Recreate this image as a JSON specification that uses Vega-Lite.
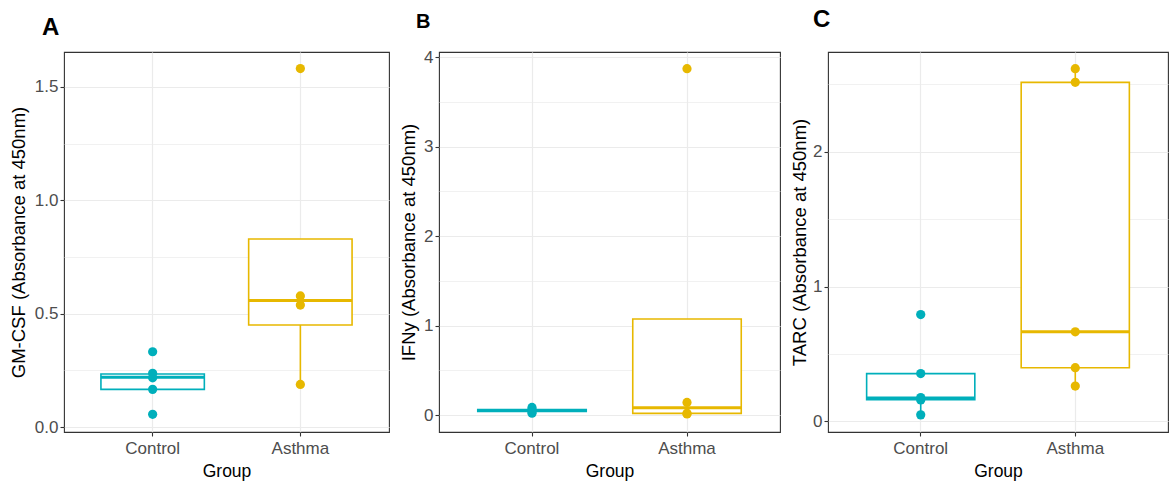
{
  "$schema": "https://vega.github.io/schema/vega-lite/v6.json",
  "background": "white",
  "padding": {"left": 8, "top": 7, "right": 0, "bottom": 0},
  "spacing": 8,
  "datasets": {
    "points": [
      {"panel": "A", "group": "Control", "value": 0.332},
      {"panel": "A", "group": "Control", "value": 0.237},
      {"panel": "A", "group": "Control", "value": 0.217},
      {"panel": "A", "group": "Control", "value": 0.166},
      {"panel": "A", "group": "Control", "value": 0.056},
      {"panel": "A", "group": "Asthma", "value": 1.581},
      {"panel": "A", "group": "Asthma", "value": 0.578},
      {"panel": "A", "group": "Asthma", "value": 0.538},
      {"panel": "A", "group": "Asthma", "value": 0.188},
      {"panel": "B", "group": "Control", "value": 0.085},
      {"panel": "B", "group": "Control", "value": 0.06},
      {"panel": "B", "group": "Control", "value": 0.05},
      {"panel": "B", "group": "Control", "value": 0.04},
      {"panel": "B", "group": "Control", "value": 0.02},
      {"panel": "B", "group": "Asthma", "value": 3.873},
      {"panel": "B", "group": "Asthma", "value": 0.141},
      {"panel": "B", "group": "Asthma", "value": 0.02},
      {"panel": "B", "group": "Asthma", "value": 0.012},
      {"panel": "C", "group": "Control", "value": 0.793},
      {"panel": "C", "group": "Control", "value": 0.355},
      {"panel": "C", "group": "Control", "value": 0.177},
      {"panel": "C", "group": "Control", "value": 0.16},
      {"panel": "C", "group": "Control", "value": 0.049},
      {"panel": "C", "group": "Asthma", "value": 2.616},
      {"panel": "C", "group": "Asthma", "value": 2.515},
      {"panel": "C", "group": "Asthma", "value": 0.665},
      {"panel": "C", "group": "Asthma", "value": 0.399},
      {"panel": "C", "group": "Asthma", "value": 0.263}
    ],
    "boxes": [
      {"panel": "A", "group": "Control", "lower": 0.166, "q1": 0.166, "median": 0.219, "q3": 0.234, "upper": 0.234},
      {"panel": "A", "group": "Asthma", "lower": 0.188, "q1": 0.45, "median": 0.558, "q3": 0.829, "upper": 0.829},
      {"panel": "B", "group": "Control", "lower": 0.04, "q1": 0.04, "median": 0.05, "q3": 0.06, "upper": 0.06},
      {"panel": "B", "group": "Asthma", "lower": 0.012, "q1": 0.018, "median": 0.08, "q3": 1.074, "upper": 1.074},
      {"panel": "C", "group": "Control", "lower": 0.049, "q1": 0.162, "median": 0.174, "q3": 0.355, "upper": 0.355},
      {"panel": "C", "group": "Asthma", "lower": 0.263, "q1": 0.399, "median": 0.665, "q3": 2.515, "upper": 2.616}
    ]
  },
  "config": {
    "font": "Liberation Sans",
    "view": {"stroke": "#333333", "strokeWidth": 1.1},
    "axis": {
      "labelFont": "Liberation Sans",
      "titleFont": "Liberation Sans",
      "labelFontSize": 17,
      "titleFontSize": 18.5,
      "labelColor": "#4D4D4D",
      "titleColor": "#000000",
      "titleFontWeight": "normal",
      "tickColor": "#333333",
      "tickSize": 4,
      "tickWidth": 1.1,
      "domain": false,
      "grid": true,
      "gridColor": "#EBEBEB",
      "gridWidth": 1.2,
      "labelPadding": 2
    },
    "title": {"font": "Liberation Sans", "fontWeight": "bold", "color": "#000000", "anchor": "start", "frame": "group", "baseline": "alphabetic"}
  },
  "hconcat": [
    {
      "title": {"text": "A", "fontSize": 24, "dx": -22, "offset": 12},
      "width": 325,
      "height": 380,
      "encoding": {
        "x": {"field": "group", "type": "nominal", "sort": ["Control", "Asthma"], "scale": {"paddingInner": 0.3, "paddingOuter": 0.25}, "title": "Group", "axis": {"labelAngle": 0, "bandPosition": 0.5, "titleFontSize": 17.5, "labelPadding": 4, "titlePadding": 6}}
      },
      "layer": [
        {
          "data": {"name": "boxes"},
          "transform": [{"filter": "datum.panel === 'A'"}],
          "mark": {"type": "rule", "strokeWidth": 1.6},
          "encoding": {
            "y": {"field": "lower", "type": "quantitative", "scale": {"domain": [-0.022, 1.654], "nice": false, "zero": false}, "title": "GM-CSF (Absorbance at 450nm)", "axis": {"values": [0, 0.25, 0.5, 0.75, 1, 1.25, 1.5], "labelExpr": "round(datum.value * 4) % 2 === 1 ? '' : format(datum.value, '.1f')", "tickOpacity": {"condition": {"test": "round(datum.value * 4) % 2 === 1", "value": 0}, "value": 1}, "gridWidth": {"condition": {"test": "round(datum.value * 4) % 2 === 1", "value": 0.7}, "value": 1.2}, "titlePadding": 6}},
            "y2": {"field": "upper"},
            "stroke": {"field": "group", "type": "nominal", "scale": {"domain": ["Control", "Asthma"], "range": ["#00AFBB", "#E7B800"]}, "legend": null}
          }
        },
        {
          "data": {"name": "boxes"},
          "transform": [{"filter": "datum.panel === 'A'"}],
          "mark": {"type": "bar", "fill": "white", "strokeWidth": 1.6},
          "encoding": {
            "y": {"field": "q1", "type": "quantitative"},
            "y2": {"field": "q3"},
            "stroke": {"field": "group", "type": "nominal", "legend": null}
          }
        },
        {
          "data": {"name": "boxes"},
          "transform": [{"filter": "datum.panel === 'A'"}],
          "mark": {"type": "bar", "fill": "white", "strokeWidth": 3},
          "encoding": {
            "y": {"field": "median", "type": "quantitative"},
            "y2": {"field": "median"},
            "stroke": {"field": "group", "type": "nominal", "legend": null}
          }
        },
        {
          "data": {"name": "points"},
          "transform": [{"filter": "datum.panel === 'A'"}],
          "mark": {"type": "circle", "size": 85, "opacity": 1},
          "encoding": {
            "y": {"field": "value", "type": "quantitative"},
            "color": {"field": "group", "type": "nominal", "scale": {"domain": ["Control", "Asthma"], "range": ["#00AFBB", "#E7B800"]}, "legend": null}
          }
        }
      ]
    },
    {
      "title": {"text": "B", "fontSize": 20, "dx": -23, "offset": 16},
      "width": 341,
      "height": 380,
      "encoding": {
        "x": {"field": "group", "type": "nominal", "sort": ["Control", "Asthma"], "scale": {"paddingInner": 0.3, "paddingOuter": 0.25}, "title": "Group", "axis": {"labelAngle": 0, "bandPosition": 0.5, "titleFontSize": 17.5, "labelPadding": 4, "titlePadding": 6}}
      },
      "layer": [
        {
          "data": {"name": "boxes"},
          "transform": [{"filter": "datum.panel === 'B'"}],
          "mark": {"type": "rule", "strokeWidth": 1.6},
          "encoding": {
            "y": {"field": "lower", "type": "quantitative", "scale": {"domain": [-0.19, 4.06], "nice": false, "zero": false}, "title": "IFNy (Absorbance at 450nm)", "axis": {"values": [0, 0.5, 1, 1.5, 2, 2.5, 3, 3.5, 4], "labelExpr": "round(datum.value * 2) % 2 === 1 ? '' : format(datum.value, 'd')", "tickOpacity": {"condition": {"test": "round(datum.value * 2) % 2 === 1", "value": 0}, "value": 1}, "gridWidth": {"condition": {"test": "round(datum.value * 2) % 2 === 1", "value": 0.7}, "value": 1.2}, "titlePadding": 5}},
            "y2": {"field": "upper"},
            "stroke": {"field": "group", "type": "nominal", "scale": {"domain": ["Control", "Asthma"], "range": ["#00AFBB", "#E7B800"]}, "legend": null}
          }
        },
        {
          "data": {"name": "boxes"},
          "transform": [{"filter": "datum.panel === 'B'"}],
          "mark": {"type": "bar", "fill": "white", "strokeWidth": 1.6},
          "encoding": {
            "y": {"field": "q1", "type": "quantitative"},
            "y2": {"field": "q3"},
            "stroke": {"field": "group", "type": "nominal", "legend": null}
          }
        },
        {
          "data": {"name": "boxes"},
          "transform": [{"filter": "datum.panel === 'B'"}],
          "mark": {"type": "bar", "fill": "white", "strokeWidth": 3},
          "encoding": {
            "y": {"field": "median", "type": "quantitative"},
            "y2": {"field": "median"},
            "stroke": {"field": "group", "type": "nominal", "legend": null}
          }
        },
        {
          "data": {"name": "points"},
          "transform": [{"filter": "datum.panel === 'B'"}],
          "mark": {"type": "circle", "size": 85, "opacity": 1},
          "encoding": {
            "y": {"field": "value", "type": "quantitative"},
            "color": {"field": "group", "type": "nominal", "scale": {"domain": ["Control", "Asthma"], "range": ["#00AFBB", "#E7B800"]}, "legend": null}
          }
        }
      ]
    },
    {
      "title": {"text": "C", "fontSize": 24, "dx": -15, "offset": 20},
      "width": 340,
      "height": 380,
      "encoding": {
        "x": {"field": "group", "type": "nominal", "sort": ["Control", "Asthma"], "scale": {"paddingInner": 0.3, "paddingOuter": 0.25}, "title": "Group", "axis": {"labelAngle": 0, "bandPosition": 0.5, "titleFontSize": 17.5, "labelPadding": 4, "titlePadding": 6}}
      },
      "layer": [
        {
          "data": {"name": "boxes"},
          "transform": [{"filter": "datum.panel === 'C'"}],
          "mark": {"type": "rule", "strokeWidth": 1.6},
          "encoding": {
            "y": {"field": "lower", "type": "quantitative", "scale": {"domain": [-0.078, 2.74], "nice": false, "zero": false}, "title": "TARC (Absorbance at 450nm)", "axis": {"values": [0, 0.5, 1, 1.5, 2, 2.5], "labelExpr": "round(datum.value * 2) % 2 === 1 ? '' : format(datum.value, 'd')", "tickOpacity": {"condition": {"test": "round(datum.value * 2) % 2 === 1", "value": 0}, "value": 1}, "gridWidth": {"condition": {"test": "round(datum.value * 2) % 2 === 1", "value": 0.7}, "value": 1.2}, "titlePadding": 3}},
            "y2": {"field": "upper"},
            "stroke": {"field": "group", "type": "nominal", "scale": {"domain": ["Control", "Asthma"], "range": ["#00AFBB", "#E7B800"]}, "legend": null}
          }
        },
        {
          "data": {"name": "boxes"},
          "transform": [{"filter": "datum.panel === 'C'"}],
          "mark": {"type": "bar", "fill": "white", "strokeWidth": 1.6},
          "encoding": {
            "y": {"field": "q1", "type": "quantitative"},
            "y2": {"field": "q3"},
            "stroke": {"field": "group", "type": "nominal", "legend": null}
          }
        },
        {
          "data": {"name": "boxes"},
          "transform": [{"filter": "datum.panel === 'C'"}],
          "mark": {"type": "bar", "fill": "white", "strokeWidth": 3},
          "encoding": {
            "y": {"field": "median", "type": "quantitative"},
            "y2": {"field": "median"},
            "stroke": {"field": "group", "type": "nominal", "legend": null}
          }
        },
        {
          "data": {"name": "points"},
          "transform": [{"filter": "datum.panel === 'C'"}],
          "mark": {"type": "circle", "size": 85, "opacity": 1},
          "encoding": {
            "y": {"field": "value", "type": "quantitative"},
            "color": {"field": "group", "type": "nominal", "scale": {"domain": ["Control", "Asthma"], "range": ["#00AFBB", "#E7B800"]}, "legend": null}
          }
        }
      ]
    }
  ]
}
